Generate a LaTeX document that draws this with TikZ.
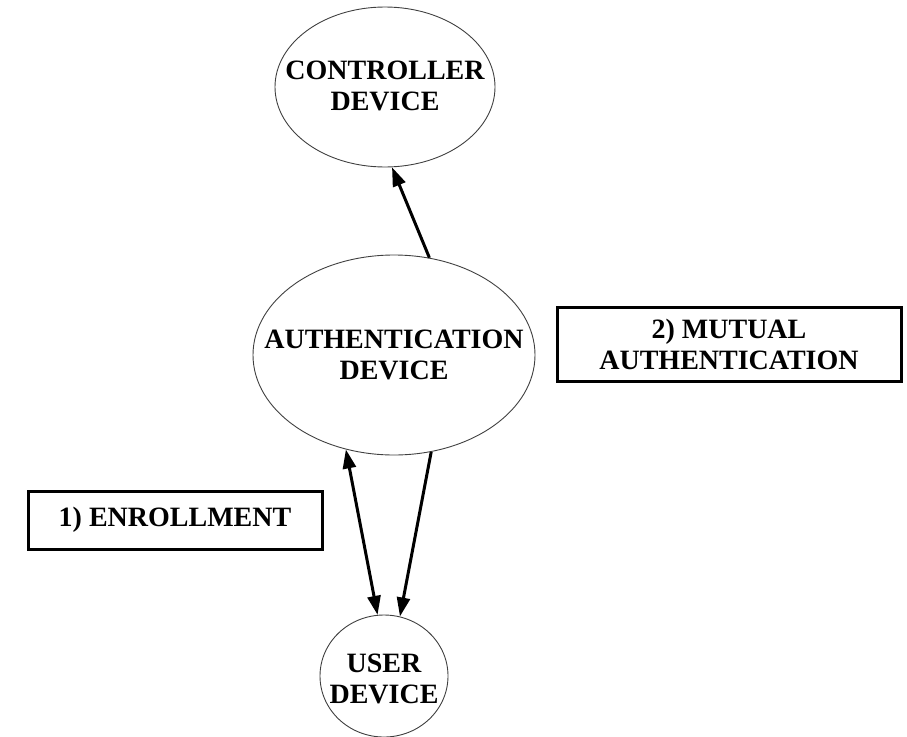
\documentclass[tikz,border=0pt]{standalone}
\usepackage{fontspec}
\setmainfont{Liberation Serif}
\usetikzlibrary{shapes.geometric,arrows.meta}

\begin{document}
\begin{tikzpicture}[x=1pt,y=-1pt,
  dev/.style={ellipse,draw=black!75,line width=0.9pt,inner sep=0pt},
  devtxt/.style={align=center,inner sep=0pt,font=\bfseries\fontsize{28}{31}\selectfont},
  stepbox/.style={draw,line width=3pt,inner sep=0pt,align=center,font=\bfseries\fontsize{28}{31}\selectfont},
  tip/.tip={Triangle[length=19pt,width=13pt]},
  flow/.style={line width=3pt,-tip}]
  % canvas: 907 x 736, y grows downwards
  \useasboundingbox (0,0) rectangle (907,736);

  % devices
  \node[dev,minimum width=220,minimum height=160] (ctrl) at(385,87){};
  \node[devtxt] (ctrltxt) at(385,86){CONTROLLER\\DEVICE};
  \node[dev,minimum width=282,minimum height=200] (auth) at(394,355){};
  \node[devtxt] (authtxt) at(394,355){AUTHENTICATION\\DEVICE};
  \node[dev,minimum width=128,minimum height=122] (user) at(384,676){};
  \node[devtxt] (usertxt) at(384,679){USER\\DEVICE};

  % steps
  \node[stepbox,minimum width=294,minimum height=58] (enrol) at(175,520){1) ENROLLMENT};
  \node[stepbox,minimum width=344,minimum height=74] (mutual) at(729,344){2) MUTUAL\\AUTHENTICATION};

  % connectors
  \draw[flow] (auth.70.9)--(ctrl.275.6);
  \draw[flow,tip-tip] (auth.243.2)--(user.96.5);
  \draw[flow] (auth.291.4)--(user.75.3);
\end{tikzpicture}
\end{document}
